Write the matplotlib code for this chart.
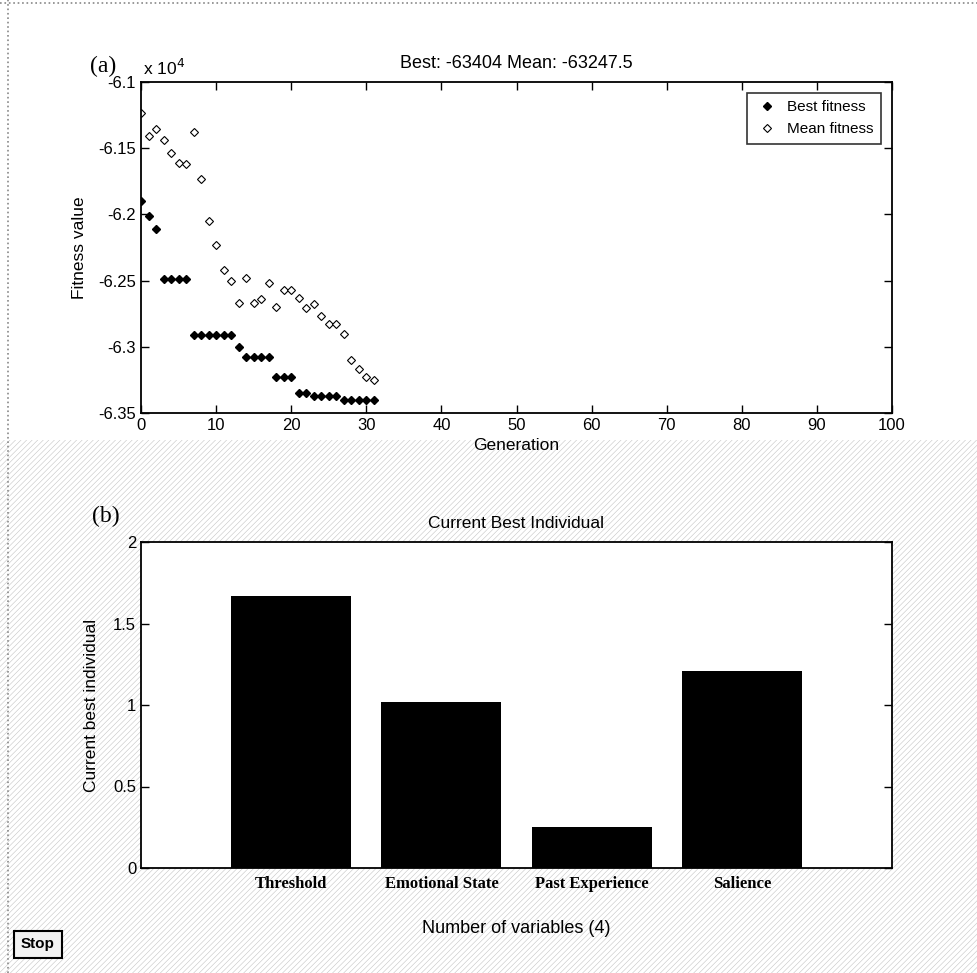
import numpy as np
import matplotlib
matplotlib.use("Agg")
import matplotlib.pyplot as plt
from matplotlib.patches import Rectangle
from matplotlib.lines import Line2D

plt.rcParams['font.family'] = ['Liberation Sans', 'DejaVu Sans']
plt.rcParams['hatch.linewidth'] = 0.4

# ---- GA progress data ----
generations = list(range(32))
best_fitness = [-61900, -62010, -62110,
                -62490, -62490, -62490, -62490,
                -62910, -62910, -62910, -62910, -62910, -62910,
                -63000,
                -63080, -63080, -63080, -63080,
                -63230, -63230, -63230,
                -63350, -63350,
                -63370, -63370, -63370, -63370,
                -63404, -63404, -63404, -63404, -63404]
mean_fitness = [-61237, -61410, -61355, -61440, -61540, -61610, -61620,
                -61375, -61735, -62050, -62230, -62420, -62500, -62670,
                -62480, -62670, -62640, -62516, -62697, -62570, -62570,
                -62630, -62710, -62680, -62770, -62830, -62830, -62900,
                -63100, -63170, -63230, -63247.5]

# ---- current best individual ----
variables = ['Threshold', 'Emotional State', 'Past Experience', 'Salience']
best_individual = [1.67, 1.02, 0.25, 1.21]

W, H = 977, 973
fig = plt.figure(figsize=(W / 100, H / 100), dpi=100)
fig.patch.set_facecolor('white')

# textured backdrop behind the lower panel
tex = Rectangle((0, 0), 1, 1 - 440 / H, transform=fig.transFigure,
                facecolor='white', edgecolor='#c4c4c4', hatch='//////',
                linewidth=0, zorder=-10)
fig.patches.append(tex)

# dotted window border along the top and left
fig.add_artist(Line2D([0, 1], [1 - 3 / H, 1 - 3 / H], color='#888888',
                      linestyle=':', linewidth=1.2))
fig.add_artist(Line2D([8 / W, 8 / W], [0, 1], color='#888888',
                      linestyle=':', linewidth=1.2))


def fig_box(l, t, r, b):
    return [l / W, 1 - b / H, (r - l) / W, (b - t) / H]


# ---------------- (a) fitness plot ----------------
ax1 = fig.add_axes(fig_box(141, 82, 892, 413))
scale = 1e4
ax1.plot(generations, np.array(best_fitness) / scale, linestyle='none',
         marker='D', markersize=4.3, color='black', label='Best fitness')
ax1.plot(generations, np.array(mean_fitness) / scale, linestyle='none',
         marker='D', markersize=3.6, markerfacecolor='white',
         markeredgecolor='black', markeredgewidth=0.8, label='Mean fitness')
ax1.set_xlim(0, 100)
ax1.set_ylim(-6.35, -6.1)
ax1.set_xticks(range(0, 101, 10))
yt = [-6.35, -6.3, -6.25, -6.2, -6.15, -6.1]
ax1.set_yticks(yt)
ax1.set_yticklabels(['-6.35', '-6.3', '-6.25', '-6.2', '-6.15', '-6.1'])
ax1.tick_params(direction='in', top=True, right=True, labelsize=12,
                length=6, width=1)
ax1.set_xlabel('Generation', fontsize=12.5, labelpad=4)
ax1.set_ylabel('Fitness value', fontsize=12.5, labelpad=8)
ax1.set_title(f'Best: {best_fitness[-1]} Mean: {mean_fitness[-1]}',
              fontsize=13, pad=10)
for s in ax1.spines.values():
    s.set_linewidth(1.3)
leg = ax1.legend(loc='upper right', fontsize=11, frameon=True, fancybox=False,
                 edgecolor='black', handletextpad=0.6, borderpad=0.5,
                 handlelength=1.5, borderaxespad=0.7)
leg.get_frame().set_linewidth(1.2)
fig.text(143 / W, 1 - 68 / H, r'x 10$^{4}$', fontsize=12.5, va='center',
         ha='left')
fig.text(103 / W, 1 - 66 / H, '(a)', fontsize=17, family='Liberation Serif',
         ha='center', va='center')

# ---------------- (b) best individual ----------------
ax2 = fig.add_axes(fig_box(141, 542, 892, 868))
x = np.arange(1, len(variables) + 1)
ax2.bar(x, best_individual, width=0.8, color='black')
ax2.set_xlim(0, len(variables) + 1)
ax2.set_ylim(0, 2)
ax2.set_yticks([0, 0.5, 1, 1.5, 2])
ax2.set_yticklabels(['0', '0.5', '1', '1.5', '2'])
ax2.set_xticks(x)
ax2.set_xticklabels(variables, family='Liberation Serif', fontweight='bold',
                    fontsize=12)
ax2.tick_params(axis='x', length=0, pad=6)
ax2.tick_params(axis='y', direction='in', right=True, labelsize=12,
                length=6, width=1)
ax2.set_xlabel(f'Number of variables ({len(variables)})', fontsize=13,
               labelpad=20)
ax2.set_ylabel('Current best individual', fontsize=12.5, labelpad=10)
ax2.set_title('Current Best Individual', fontsize=12.5, pad=10)
for s in ax2.spines.values():
    s.set_linewidth(1.3)
fig.text(106 / W, 1 - 516 / H, '(b)', fontsize=17, family='Liberation Serif',
         ha='center', va='center')

# Stop button
btn = Rectangle((14 / W, 1 - 958 / H), 48 / W, 27 / H, transform=fig.transFigure,
                facecolor='#f2f2f2', edgecolor='black', linewidth=1.5)
fig.patches.append(btn)
fig.text(38 / W, 1 - 944 / H, 'Stop', fontsize=11, fontweight='bold',
         ha='center', va='center')

fig.savefig('out.png', dpi=100)
